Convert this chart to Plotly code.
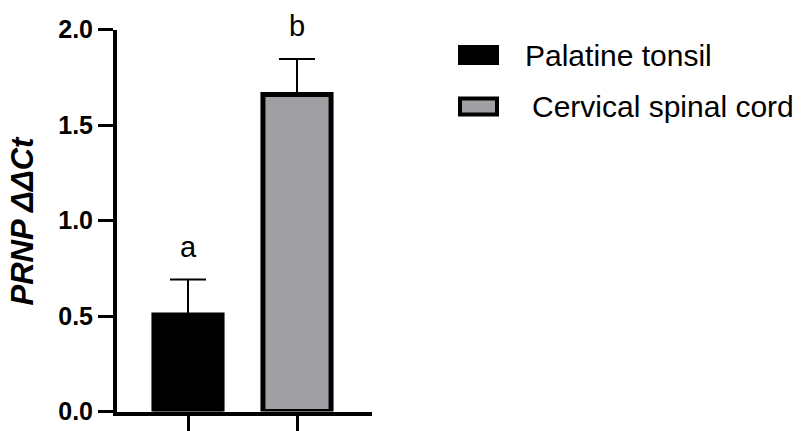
import plotly.graph_objects as go

# ---- data ----
categories = ["Palatine tonsil", "Cervical spinal cord"]
means = [0.505, 1.66]
errors = [0.186, 0.185]
letters = ["a", "b"]
bar_colors = ["#000000", "#a0a0a4"]
y_tickvals = [0.0, 0.5, 1.0, 1.5, 2.0]
y_ticktext = ["0.0", "0.5", "1.0", "1.5", "2.0"]
y_title = "PRNP ΔΔCt"

W, H = 812, 431
FONT = "Liberation Sans, Arial, Helvetica, sans-serif"

# plot area in pixels
x0px, x1px = 117, 372
ytop_px, ybot_px = 29.5, 411.5

xpos = list(range(len(categories)))

fig = go.Figure()
fig.add_trace(go.Bar(
    x=xpos, y=means, width=0.625,
    marker=dict(color=bar_colors, line=dict(color="black", width=5)),
    error_y=dict(type="data", array=errors, arrayminus=[0] * len(errors),
                 symmetric=False, color="black", thickness=2, width=18),
    showlegend=False, hoverinfo="skip",
))

# significance letters above error bars
for xi, m, e, lt in zip(xpos, means, errors, letters):
    fig.add_annotation(x=xi, y=m + e, xref="x", yref="y", text=lt,
                       showarrow=False, yanchor="bottom", yshift=15,
                       font=dict(family=FONT, size=29, color="black"))

# y-axis title
fig.add_annotation(x=22 / W, y=1 - ((ytop_px + ybot_px) / 2) / H,
                   xref="paper", yref="paper", text=f"<b><i>{y_title}</i></b>",
                   textangle=-90, showarrow=False, xanchor="center", yanchor="middle",
                   font=dict(family=FONT, size=31, color="black"))

# custom legend
leg_y = [55, 106.5]
leg_text_x = [523, 530]
for i, (lab, col) in enumerate(zip(categories, bar_colors)):
    cy = leg_y[i]
    fig.add_shape(type="rect", xref="paper", yref="paper",
                  x0=460 / W, x1=497 / W, y0=1 - (cy + 8) / H, y1=1 - (cy - 8) / H,
                  fillcolor=col, line=dict(color="black", width=4))
    fig.add_annotation(x=leg_text_x[i] / W, y=1 - cy / H, xref="paper", yref="paper",
                       text=lab, showarrow=False, xanchor="left", yanchor="middle",
                       font=dict(family=FONT, size=30, color="black"))

# x range so that bar centres land at 188 and 297 px
px_per_unit = 109.0
xr0 = (x0px - 188) / px_per_unit
xr1 = xr0 + (x1px - x0px) / px_per_unit

fig.update_layout(
    width=W, height=H,
    margin=dict(l=0, r=0, t=0, b=0),
    paper_bgcolor="white", plot_bgcolor="white",
    font=dict(family=FONT, color="black"),
    xaxis=dict(domain=[x0px / W, x1px / W], range=[xr0, xr1],
               showgrid=False, zeroline=False, showline=True, linecolor="black",
               linewidth=4, ticks="outside", ticklen=15, tickwidth=3,
               tickcolor="black", tickvals=xpos, ticktext=["", ""],
               automargin=False),
    yaxis=dict(domain=[1 - ybot_px / H, 1 - ytop_px / H], range=[0, 2],
               showgrid=False, zeroline=False, showline=True, linecolor="black",
               linewidth=4, ticks="outside", ticklen=15, tickwidth=3,
               tickcolor="black", tickvals=y_tickvals, ticktext=y_ticktext,
               tickfont=dict(family=FONT, size=25, color="black", weight="bold"),
               automargin=False),
)

fig.write_html("out.html", config={"displayModeBar": False},
               post_script="document.body.style.margin='0';document.body.style.overflow='hidden';")
